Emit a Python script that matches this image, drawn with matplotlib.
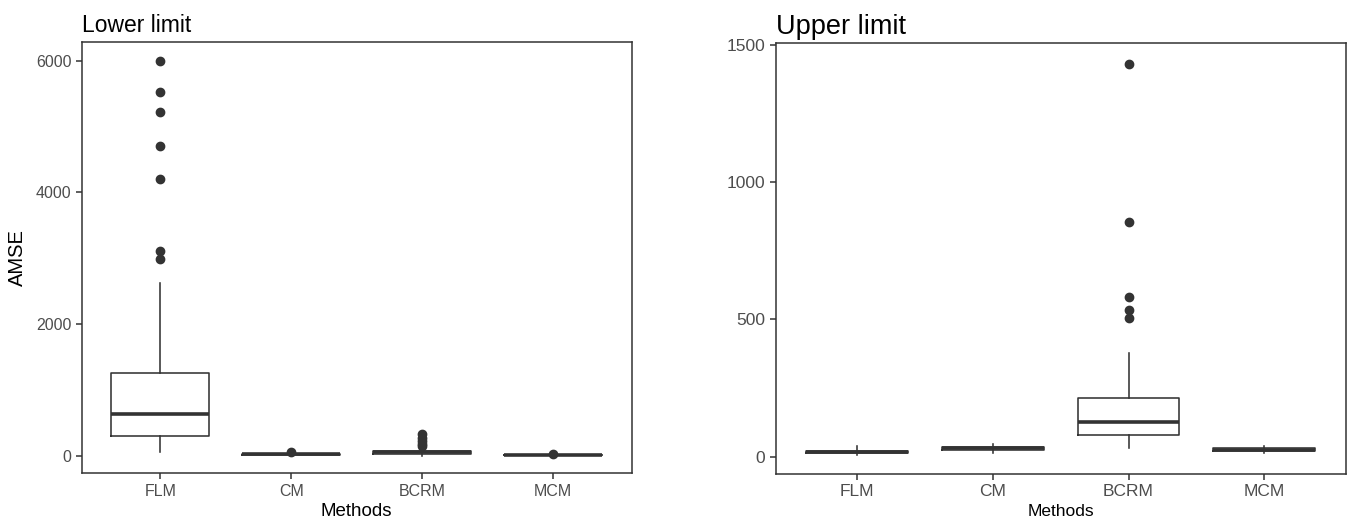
import numpy as np
import matplotlib
matplotlib.use("Agg")
import matplotlib.pyplot as plt

plt.rcParams['font.family'] = ['Liberation Sans', 'DejaVu Sans']

methods = ["FLM", "CM", "BCRM", "MCM"]

# box summaries: lower whisker, q1, median, q3, upper whisker
lower_whislo = [58, 0, 0, 0]
lower_q1 = [301, 10, 30, 3]
lower_med = [626, 18, 50, 8]
lower_q3 = [1258, 28, 75, 14]
lower_whishi = [2616, 50, 140, 25]
lower_fliers = [[5993, 5517, 5222, 4706, 4196, 3107, 2980], [60], [330, 270, 220, 180, 150], [30]]

upper_whislo = [5, 15, 31, 12]
upper_q1 = [12, 25, 79, 20]
upper_med = [17, 30, 128, 25]
upper_q3 = [22, 35, 213, 30]
upper_whishi = [40, 45, 377, 40]
upper_fliers = [[], [], [1431, 854, 583, 535, 504], []]

dark = "#333333"
tick_col = "#4D4D4D"


def make_stats(lo, q1, med, q3, hi, fl):
    out = []
    for i in range(len(methods)):
        out.append(dict(whislo=lo[i], q1=q1[i], med=med[i], q3=q3[i], whishi=hi[i],
                        fliers=fl[i], label=methods[i]))
    return out


def draw_panel(ax, stats, title, title_size, tick_size, ylim, yticks):
    ax.bxp(stats, positions=np.arange(len(methods)), widths=0.75, showfliers=True,
           boxprops=dict(color=dark, linewidth=1.15),
           medianprops=dict(color=dark, linewidth=2.6, solid_capstyle='butt'),
           whiskerprops=dict(color=dark, linewidth=1.15),
           capprops=dict(linewidth=0),
           flierprops=dict(marker='o', markerfacecolor=dark, markeredgecolor=dark,
                           markersize=6, linestyle='none'),
           patch_artist=False)
    ax.set_xlim(-0.6, 3.6)
    ax.set_ylim(*ylim)
    ax.set_yticks(yticks)
    ax.set_xticks(np.arange(len(methods)))
    ax.set_xticklabels(methods)
    ax.tick_params(axis='both', colors=dark, labelcolor=tick_col, labelsize=tick_size,
                   length=4, width=1.1, direction='out')
    for s in ax.spines.values():
        s.set_color(dark)
        s.set_linewidth(1.1)
    ax.set_title(title, loc='left', fontsize=title_size, color='black', pad=7)
    ax.set_xlabel("Methods", fontsize=13.5, labelpad=3)


fig = plt.figure(figsize=(13.47, 5.24), dpi=100)
W, H = 1347, 524

ax1 = fig.add_axes([81.7 / W, (H - 473.3) / H, 550 / W, (473.3 - 41.7) / H])
draw_panel(ax1, make_stats(lower_whislo, lower_q1, lower_med, lower_q3, lower_whishi, lower_fliers),
           "Lower limit", 16.5, 11.5, (-270, 6286), [0, 2000, 4000, 6000])
ax1.set_ylabel("AMSE", fontsize=14.5, labelpad=6)

ax2 = fig.add_axes([775.7 / W, (H - 474) / H, 570 / W, (474 - 43.3) / H])
draw_panel(ax2, make_stats(upper_whislo, upper_q1, upper_med, upper_q3, upper_whishi, upper_fliers),
           "Upper limit", 19.5, 12.5, (-63, 1506), [0, 500, 1000, 1500])
ax2.xaxis.label.set_size(12.5)

fig.savefig("out.png", dpi=100)
